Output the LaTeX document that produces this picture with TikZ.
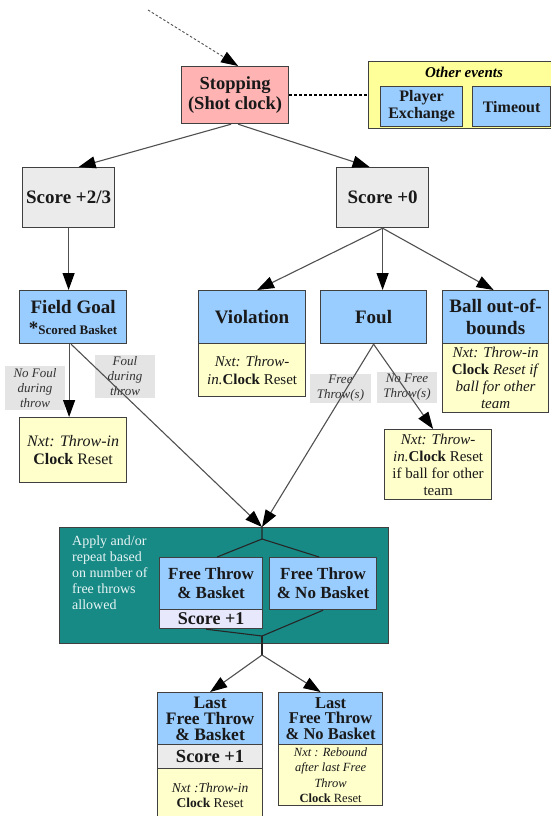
\documentclass[tikz,border=0pt]{standalone}
\usepackage{fontspec}
\setmainfont{Liberation Serif}
\usetikzlibrary{arrows.meta,calc}
\definecolor{pinkc}{HTML}{FFB3B3}
\definecolor{yelc}{HTML}{FFFF99}
\definecolor{bluec}{HTML}{99CCFF}
\definecolor{paleyel}{HTML}{FFFFCC}
\definecolor{greyc}{HTML}{EBEBEB}
\definecolor{tealc}{HTML}{178A86}
\definecolor{lavc}{HTML}{E8E8FC}
\definecolor{labc}{HTML}{E4E4E4}
\definecolor{bordc}{HTML}{404040}
\definecolor{edgec}{HTML}{505050}
\definecolor{tealtext}{HTML}{E8F4F4}
\begin{document}
\begin{tikzpicture}[x=1pt,y=-1pt,
 box/.style={draw=bordc, line width=1.2pt, inner sep=1pt, align=center, anchor=north west, text=black!90},
 hdr/.style={font=\bfseries\fontsize{19}{21}\selectfont},
 lab/.style={fill=labc, inner sep=1pt, align=center, font=\itshape\fontsize{13}{15}\selectfont, text=black!80, anchor=center},
 edge/.style={draw=edgec, line width=1.1pt, -{Triangle[length=17pt,width=12pt,fill=black,color=black]}},
 plain/.style={draw=black!85, line width=1.1pt},
]
\useasboundingbox (0,0) rectangle (551,816);

% top
\node[box, fill=pinkc, minimum width=107pt, minimum height=57pt, font=\bfseries\fontsize{18.5}{20}\selectfont] (stop) at (181,66) {Stopping\\(Shot clock)};
\node[box, fill=yelc, minimum width=187pt, minimum height=67pt] (other) at (368,61) {};
\node[font=\bfseries\itshape\fontsize{15}{17}\selectfont, anchor=center, inner sep=0pt] (othert) at (464,72) {Other events};
\node[box, fill=bluec, minimum width=82pt, minimum height=40pt, font=\bfseries\fontsize{16}{17}\selectfont] (player) at (380,86) {Player\\Exchange};
\node[box, fill=bluec, minimum width=78pt, minimum height=40pt, font=\bfseries\fontsize{16}{17}\selectfont] (timeout) at (472,86) {Timeout};

% scores
\node[box, fill=greyc, minimum width=92pt, minimum height=60pt, hdr] (s23) at (22,167) {Score +2/3};
\node[box, fill=greyc, minimum width=92pt, minimum height=60pt, hdr] (s0) at (336,167) {Score +0};

% row 3
\node[box, fill=bluec, minimum width=107pt, minimum height=53pt, hdr] (fg) at (19,290) {Field Goal\\{\fontsize{19}{19}\selectfont *}{\fontsize{13}{13}\selectfont Scored Basket}};
\node[box, fill=paleyel, minimum width=107pt, minimum height=65pt, font=\fontsize{16}{18}\selectfont] (nxt1) at (19,417) {\textit{Nxt: Throw-in}\\\textbf{Clock} Reset};
\node[box, fill=bluec, minimum width=107pt, minimum height=53pt, hdr] (vio) at (198,290) {Violation};
\node[box, fill=paleyel, minimum width=107pt, minimum height=53pt, font=\fontsize{15}{18}\selectfont] (vion) at (198,343) {\textit{Nxt: Throw-}\\\textit{in.}\textbf{Clock} Reset};
\node[box, fill=bluec, minimum width=106pt, minimum height=53pt, hdr] (foul) at (320,290) {Foul};
\node[box, fill=bluec, minimum width=106pt, minimum height=53pt, font=\bfseries\fontsize{19}{22}\selectfont] (ball) at (442,290) {Ball out-of-\\bounds};
\node[box, fill=paleyel, minimum width=106pt, minimum height=69pt, font=\fontsize{15}{17}\selectfont] (balln) at (442,343) {\textit{Nxt: Throw-in}\\\textbf{Clock} \textit{Reset if}\\\textit{ball for other}\\\textit{team}};
\node[box, fill=paleyel, minimum width=107pt, minimum height=70pt, font=\fontsize{15}{17}\selectfont] (nxt2) at (384,429) {\textit{Nxt: Throw-}\\\textit{in.}\textbf{Clock} Reset\\if ball for other\\team};

% labels
\node[lab, minimum width=60pt, minimum height=44pt] (l1) at (35,388) {No Foul\\during\\throw};
\node[lab, minimum width=60pt, minimum height=43pt] (l2) at (125,376.5) {Foul\\during\\throw};
\node[lab, minimum width=61pt, minimum height=29pt] (l3) at (340.5,388.5) {Free\\Throw(s)};
\node[lab, minimum width=60pt, minimum height=31pt] (l4) at (407,387.5) {No Free\\Throw(s)};

% teal group
\node[box, fill=tealc, minimum width=329pt, minimum height=116pt] (teal) at (59,527) {};
\node[anchor=north west, align=left, text=tealtext, font=\fontsize{14}{16}\selectfont, inner sep=0pt] (tealt) at (72,536) {Apply and/or\\repeat based\\on number of\\free throws\\allowed};
\node[box, fill=bluec, minimum width=103pt, minimum height=52pt, font=\bfseries\fontsize{17}{19}\selectfont] (ftb) at (159,557) {Free Throw\\\& Basket};
\node[box, fill=lavc, minimum width=103pt, minimum height=19pt, font=\bfseries\fontsize{18}{18}\selectfont, inner sep=0pt] (ftbs) at (159,609) {Score +1};
\node[box, fill=bluec, minimum width=107pt, minimum height=52pt, font=\bfseries\fontsize{17}{19}\selectfont] (ftnb) at (269,557) {Free Throw\\\& No Basket};

% last row
\node[box, fill=bluec, minimum width=105pt, minimum height=52pt, font=\bfseries\fontsize{17.5}{16}\selectfont, inner sep=0pt] (lftb) at (157,692) {Last\\Free Throw\\\& Basket};
\node[box, fill=greyc, minimum width=105pt, minimum height=24pt, font=\bfseries\fontsize{18.5}{18}\selectfont, inner sep=0pt] (lftbs) at (157,744) {Score +1};
\node[box, fill=paleyel, minimum width=105pt, minimum height=54pt, font=\fontsize{13.5}{15}\selectfont] (lftbn) at (157,768) {\textit{Nxt :Throw-in}\\\textbf{Clock} Reset};
\node[box, fill=bluec, minimum width=104pt, minimum height=52pt, font=\bfseries\fontsize{16.5}{15.5}\selectfont, inner sep=0pt] (lftnb) at (278,692) {Last\\Free Throw\\\& No Basket};
\node[box, fill=paleyel, minimum width=104pt, minimum height=61pt, font=\fontsize{12.5}{15.5}\selectfont] (lftnbn) at (278,744) {\textit{Nxt : Rebound}\\\textit{after last Free}\\\textit{Throw}\\\textbf{Clock} Reset};

% coordinates
\coordinate (start) at (148,10);
\coordinate (tin) at (262,527);
\coordinate (j1) at (262,539);
\coordinate (j2) at (262,636);
\coordinate (j3) at (262,655);

% connectors
\draw[edge, line width=0.9pt, dash pattern=on 2.5pt off 2pt] (start) -- ($(stop.north)+(3,0)$);
\draw[draw=black, line width=1.6pt, dash pattern=on 2.5pt off 2.5pt] (stop.east) -- (other.west);
\draw[edge] ($(stop.south)+(-4,0)$) -- ($(s23.north)+(10,0)$);
\draw[edge] ($(stop.south)+(3,0)$) -- ($(s0.north)+(-13,0)$);
\draw[edge] (s23.south) -- (s23.south |- fg.north);
\draw[edge] (s0.south) -- ($(vio.north)+(5,0)$);
\draw[edge] (s0.south) -- (s0.south |- foul.north);
\draw[edge] (s0.south) -- ($(ball.north)+(-2,0)$);
\draw[edge] ($(fg.south)+(-4,0)$) -- ($(nxt1.north)+(-4,0)$);
\draw[edge] ($(fg.south)+(-2,0)$) -- (tin);
\draw[edge] (foul.south) -- (tin);
\draw[edge] (foul.south) -- ($(nxt2.north)+(-5,0)$);
\draw[plain] (tin) -- (j1) -- ($(ftb.north)+(6,0)$);
\draw[plain] (j1) -- ($(ftnb.north)+(-4,0)$);
\draw[plain] ($(ftbs.south)+(-5,0)$) -- (j2);
\draw[plain] (ftnb.south) -- (j2);
\draw[plain] (j2) -- (j3);
\draw[edge] (j3) -- (lftb.north);
\draw[edge] (j3) -- ($(lftnb.north)+(-10,0)$);
\end{tikzpicture}
\end{document}
